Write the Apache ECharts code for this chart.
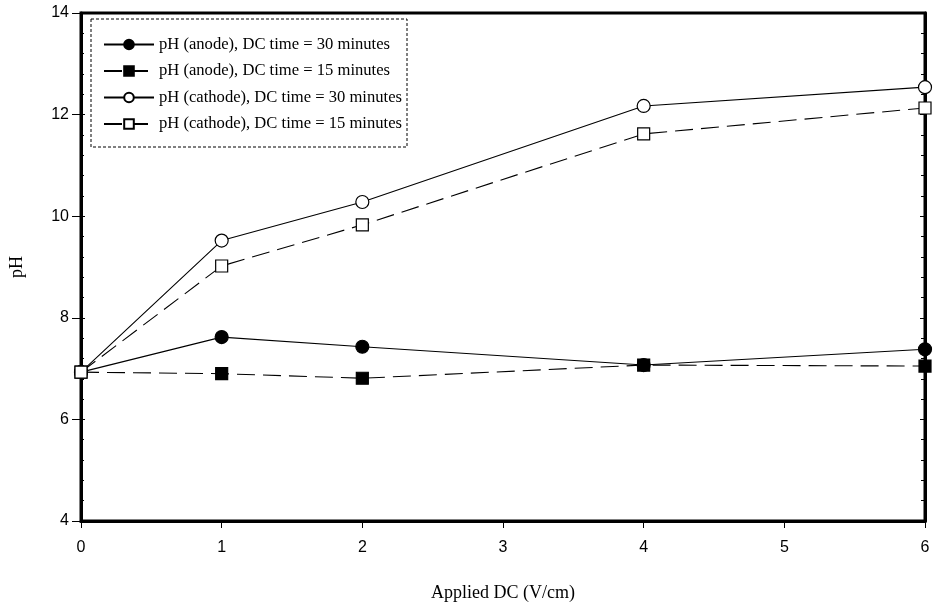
<!DOCTYPE html>
<html>
<head>
<meta charset="utf-8">
<script src="https://cdn.jsdelivr.net/npm/echarts@6/dist/echarts.min.js"></script>
<style>
    html, body { margin: 0; padding: 0; background: #fff; }
    #chart { width: 935px; height: 610px; }
</style>
</head>
<body>
<div id="chart"></div>
<script>
// applied DC (V/cm)
const dcValues = [0, 1, 2, 4, 6];
const anode30 = [6.93, 7.62, 7.43, 7.07, 7.38];
const anode15 = [6.93, 6.90, 6.81, 7.07, 7.05];
const cathode30 = [6.93, 9.52, 10.28, 12.17, 12.54];
const cathode15 = [6.93, 9.02, 9.83, 11.62, 12.13];
const seriesNames = [
    'pH (anode), DC time = 30 minutes',
    'pH (anode), DC time = 15 minutes',
    'pH (cathode), DC time = 30 minutes',
    'pH (cathode), DC time = 15 minutes'
];

const serif = 'Liberation Serif';
const sans = 'Liberation Sans';

function pairs(vals) {
    return dcValues.map((x, i) => [x, vals[i]]);
}

function makeSeries(name, vals, symbol, filled, dashed) {
    return {
        name: name,
        type: 'line',
        data: pairs(vals),
        symbol: symbol,
        symbolSize: symbol === 'circle' ? 13 : 12,
        showSymbol: true,
        lineStyle: { color: '#000', width: 1.1, type: dashed ? [18, 8] : 'solid' },
        itemStyle: { color: filled ? '#000' : '#fff', borderColor: '#000', borderWidth: 1.2 },
        emphasis: { disabled: true },
        z: 3
    };
}

const chart = echarts.init(document.getElementById('chart'));
chart.setOption({
    animation: false,
    backgroundColor: '#fff',
    grid: {
        left: 76, right: 10, top: 13, bottom: 89,
        show: true, borderColor: '#000', borderWidth: 3, backgroundColor: 'transparent'
    },
    graphic: [{
        type: 'rect',
        shape: { x: 91, y: 19, width: 316, height: 128 },
        style: { fill: '#fff', stroke: '#000', lineWidth: 1, lineDash: [3, 2] },
        z: 5
    }],
    legend: {
        orient: 'vertical',
        left: 98, top: 31,
        itemWidth: 50, itemHeight: 12, itemGap: 9.5,
        data: seriesNames,
        textStyle: { fontFamily: serif, fontSize: 16.6, color: '#000' },
        selectedMode: false,
        z: 10
    },
    xAxis: {
        type: 'value',
        min: 0, max: 6, interval: 1,
        name: 'Applied DC (V/cm)',
        nameLocation: 'middle',
        nameGap: 63,
        nameTextStyle: { fontFamily: serif, fontSize: 18, color: '#000' },
        axisLine: { show: true, lineStyle: { color: '#000', width: 3 } },
        axisTick: { show: true, length: 7, lineStyle: { color: '#000', width: 1 } },
        axisLabel: { fontFamily: sans, fontSize: 16, color: '#000', margin: 19 },
        splitLine: { show: false }
    },
    yAxis: [{
        type: 'value',
        position: 'left',
        min: 4, max: 14, interval: 2,
        name: 'pH',
        nameLocation: 'middle',
        nameGap: 55,
        nameTextStyle: { fontFamily: serif, fontSize: 18, color: '#000' },
        axisLine: { show: true, lineStyle: { color: '#000', width: 3 } },
        axisTick: { show: true, length: 9, lineStyle: { color: '#000', width: 1 } },
        axisLabel: { fontFamily: sans, fontSize: 16, color: '#000', margin: 12 },
        splitLine: { show: false }
    }, {
        type: 'value',
        position: 'left',
        min: 4, max: 14, interval: 2,
        axisLine: { show: false },
        axisTick: { show: true, inside: true, length: 4, lineStyle: { color: '#000', width: 1 } },
        minorTick: { show: true, splitNumber: 5, length: 3, lineStyle: { color: '#000', width: 1 } },
        axisLabel: { show: false },
        splitLine: { show: false }
    }, {
        type: 'value',
        position: 'right',
        min: 4, max: 14, interval: 2,
        axisLine: { show: true, lineStyle: { color: '#000', width: 3 } },
        axisTick: { show: true, inside: true, length: 5, lineStyle: { color: '#000', width: 1 } },
        minorTick: { show: true, splitNumber: 5, length: 4, lineStyle: { color: '#000', width: 1 } },
        axisLabel: { show: false },
        splitLine: { show: false }
    }],
    series: [
        makeSeries(seriesNames[0], anode30, 'circle', true, false),
        makeSeries(seriesNames[1], anode15, 'rect', true, true),
        makeSeries(seriesNames[2], cathode30, 'circle', false, false),
        makeSeries(seriesNames[3], cathode15, 'rect', false, true)
    ]
});
</script>
</body>
</html>
